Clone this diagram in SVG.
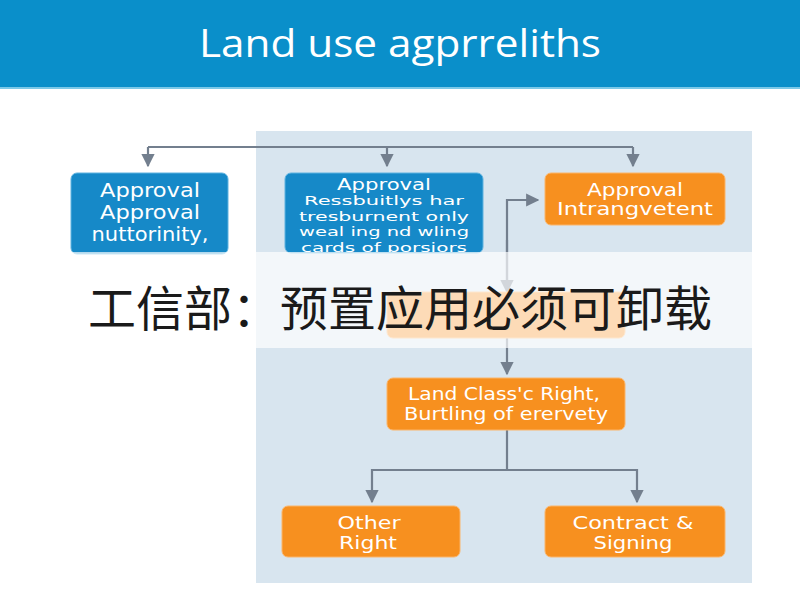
<svg xmlns="http://www.w3.org/2000/svg" width="800" height="600" viewBox="0 0 800 600">
<style>
.blue{fill:#1689c8;stroke:#5fb3e0;stroke-width:1}
.orange{fill:#f7901f;stroke:#fbb56a;stroke-width:1}
.t{font-family:"DejaVu Sans","Noto Sans",sans-serif;fill:#ffffff;text-anchor:middle}
.conn{fill:none;stroke:#737f8e;stroke-width:2.2}
</style>
<defs>
<marker id="ah" viewBox="0 0 10 10" refX="9" refY="5" markerWidth="6" markerHeight="6" orient="auto" markerUnits="strokeWidth">
<path d="M0,0 L10,5 L0,10 z" fill="#737f8e"/>
</marker>
<clipPath id="c2"><rect x="285" y="173" width="198" height="79"/></clipPath>
</defs>
<rect width="800" height="600" fill="#ffffff"/>
<rect x="0" y="0" width="800" height="88" fill="#0a8fca"/>
<rect x="0" y="87" width="800" height="2" fill="#7cc9e8"/>
<text x="400" y="57" font-family="'Open Sans','Noto Sans',sans-serif" font-size="38" fill="#ffffff" text-anchor="middle" textLength="402" lengthAdjust="spacingAndGlyphs">Land use agprreliths</text>
<rect x="256" y="131" width="496" height="452" fill="#d8e5ef"/>
<g id="connectors">
<path class="conn" d="M148,147 H633"/>
<path class="conn" d="M148,147 V166" marker-end="url(#ah)"/>
<path class="conn" d="M387,147 V166" marker-end="url(#ah)"/>
<path class="conn" d="M633,147 V166" marker-end="url(#ah)"/>
<path class="conn" d="M507,285 V200 H538" marker-end="url(#ah)"/>
<path class="conn" d="M507,240 V292" marker-end="url(#ah)"/>
<path class="conn" d="M507,338 V374" marker-end="url(#ah)"/>
<path class="conn" d="M507,430 V470 M372,470 H637"/>
<path class="conn" d="M372,469 V502" marker-end="url(#ah)"/>
<path class="conn" d="M637,469 V502" marker-end="url(#ah)"/>
</g>
<g id="node1">
<rect class="blue" x="71" y="173" width="157" height="81" rx="6"/>
<text class="t" font-size="20" x="150" y="197" textLength="100" lengthAdjust="spacingAndGlyphs">Approval</text>
<text class="t" font-size="20" x="150" y="219" textLength="100" lengthAdjust="spacingAndGlyphs">Approval</text>
<text class="t" font-size="20" x="150" y="241" textLength="117" lengthAdjust="spacingAndGlyphs">nuttorinity,</text>
</g>
<g id="node2">
<rect class="blue" x="285" y="173" width="198" height="80" rx="6"/>
<g clip-path="url(#c2)">
<text class="t" font-size="15" x="384" y="190" textLength="94" lengthAdjust="spacingAndGlyphs">Approval</text>
<text class="t" font-size="13" x="384" y="205" textLength="160" lengthAdjust="spacingAndGlyphs">Ressbuitlys har</text>
<text class="t" font-size="13" x="384" y="220.5" textLength="170" lengthAdjust="spacingAndGlyphs">tresburnent only</text>
<text class="t" font-size="13" x="384" y="236" textLength="170" lengthAdjust="spacingAndGlyphs">weal ing nd wling</text>
<text class="t" font-size="13" x="384" y="251.5" textLength="166" lengthAdjust="spacingAndGlyphs">cards of porsiors</text>
</g>
</g>
<g id="node3">
<rect class="orange" x="545" y="173" width="180" height="52" rx="6"/>
<text class="t" font-size="18" x="635" y="196" textLength="96" lengthAdjust="spacingAndGlyphs">Approval</text>
<text class="t" font-size="18" x="635" y="215" textLength="156" lengthAdjust="spacingAndGlyphs">Intrangvetent</text>
</g>
<g id="node4">
<rect class="orange" x="387" y="292" width="238" height="46" rx="6"/>
</g>
<g id="node5">
<rect class="orange" x="387" y="378" width="238" height="52" rx="6"/>
<text class="t" font-size="18" x="504" y="400" textLength="192" lengthAdjust="spacingAndGlyphs">Land Class'c Right,</text>
<text class="t" font-size="18" x="506" y="420" textLength="204" lengthAdjust="spacingAndGlyphs">Burtling of erervety</text>
</g>
<g id="node6">
<rect class="orange" x="282" y="506" width="178" height="51" rx="6"/>
<text class="t" font-size="18" x="369" y="529" textLength="63" lengthAdjust="spacingAndGlyphs">Other</text>
<text class="t" font-size="18" x="368" y="549" textLength="58" lengthAdjust="spacingAndGlyphs">Right</text>
</g>
<g id="node7">
<rect class="orange" x="545" y="506" width="180" height="51" rx="6"/>
<text class="t" font-size="18" x="633" y="529" textLength="121" lengthAdjust="spacingAndGlyphs">Contract &amp;</text>
<text class="t" font-size="18" x="633" y="549" textLength="79" lengthAdjust="spacingAndGlyphs">Signing</text>
</g>
<rect x="0" y="252" width="800" height="96" fill="#ffffff" opacity="0.68"/>
<text x="400" y="326" font-family="'Noto Sans CJK SC',sans-serif" font-size="48" fill="#1a1a1a" text-anchor="middle" textLength="624">工信部：预置应用必须可卸载</text>
</svg>
